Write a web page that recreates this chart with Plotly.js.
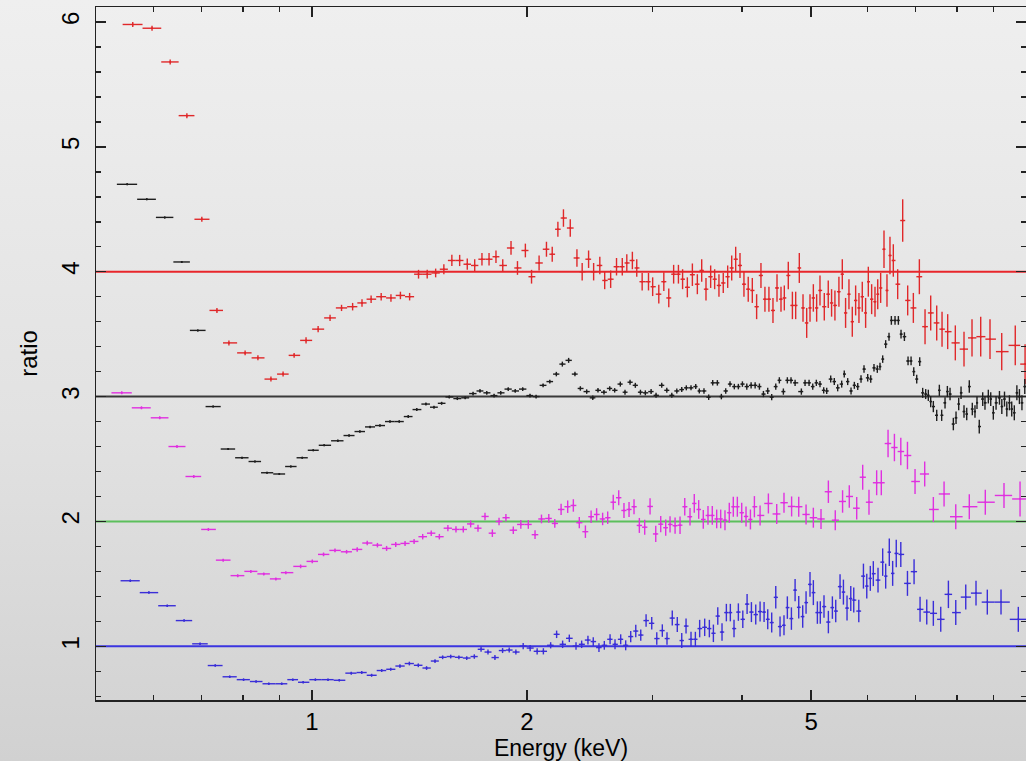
<!DOCTYPE html>
<html>
<head>
<meta charset="utf-8">
<script src="https://cdn.plot.ly/plotly-3.0.1.min.js"></script>
<style>
  html, body { margin: 0; padding: 0; }
  #wrap { width: 1026px; height: 761px; background: linear-gradient(to bottom, #efefef 0%, #e2e2e2 55%, #d1d1d1 100%); }
  #chart { width: 1026px; height: 761px; }
</style>
</head>
<body>
<div id="wrap"><div id="chart"></div></div>
<script>
// [energy keV, ratio, 1-sigma error]
const redPoints = [
  [0.561,5.98,0.02],[0.597,5.95,0.02],[0.633,5.68,0.02],[0.668,5.25,0.02],[0.701,4.42,0.02],
  [0.736,3.69,0.02],[0.765,3.43,0.02],[0.806,3.35,0.02],[0.840,3.31,0.02],[0.876,3.14,0.02],
  [0.911,3.18,0.02],[0.944,3.33,0.02],[0.981,3.45,0.025],[1.02,3.54,0.025],[1.06,3.63,0.025],
  [1.10,3.71,0.025],[1.14,3.72,0.03],[1.175,3.75,0.03],[1.21,3.78,0.03],[1.25,3.80,0.03],
  [1.29,3.79,0.03],[1.33,3.81,0.03],[1.37,3.80,0.03],[1.41,3.98,0.035],[1.45,3.98,0.035],
  [1.49,3.99,0.035],[1.53,4.02,0.04],[1.57,4.09,0.045],[1.61,4.09,0.045],[1.65,4.06,0.045],
  [1.69,4.05,0.05],[1.73,4.10,0.05],[1.77,4.10,0.05],[1.81,4.12,0.05],[1.85,4.05,0.05],
  [1.90,4.19,0.055],[1.94,4.03,0.055],[1.99,4.17,0.055],[2.03,3.96,0.055],[2.08,4.07,0.06],
  [2.13,4.18,0.06],[2.17,4.14,0.06],[2.21,4.34,0.06],[2.25,4.43,0.07],[2.30,4.35,0.07],
  [2.35,4.11,0.07],[2.39,4.00,0.07],[2.44,4.10,0.07],[2.48,4.00,0.07],[2.53,4.05,0.07],
  [2.57,3.93,0.07],[2.62,3.94,0.07],[2.67,4.04,0.07],[2.72,4.04,0.07],[2.76,4.07,0.07],
  [2.81,4.09,0.07],[2.85,4.03,0.07],[2.90,3.92,0.07],[2.96,3.92,0.07],[3.00,3.88,0.075],
  [3.06,3.82,0.075],[3.11,3.92,0.075],[3.16,3.79,0.075],[3.21,3.98,0.075],[3.26,3.98,0.075],
  [3.304,3.94,0.08],[3.355,3.875,0.08],[3.41,3.976,0.09],[3.465,3.90,0.08],[3.514,4.01,0.09],
  [3.563,3.86,0.09],[3.617,3.96,0.09],[3.664,3.94,0.08],[3.715,3.89,0.09],[3.767,3.91,0.08],
  [3.821,3.96,0.09],[3.871,4.03,0.1],[3.921,4.10,0.1],[3.976,4.05,0.1],[4.027,3.90,0.1],
  [4.083,3.86,0.1],[4.137,3.85,0.1],[4.195,3.72,0.1],[4.254,3.97,0.1],[4.309,3.78,0.1],
  [4.365,3.78,0.1],[4.422,3.69,0.1],[4.480,3.87,0.11],[4.538,3.78,0.1],[4.587,3.79,0.1],
  [4.646,3.97,0.11],[4.708,3.73,0.11],[4.758,3.73,0.11],[4.814,4.03,0.12],[4.872,3.71,0.11],
  [4.930,3.59,0.12],[4.983,3.71,0.11],[5.037,3.79,0.11],[5.091,3.71,0.11],[5.146,3.85,0.12],
  [5.218,3.72,0.11],[5.285,3.82,0.11],[5.342,3.75,0.11],[5.400,3.73,0.12],[5.470,3.84,0.12],
  [5.530,3.98,0.12],[5.589,3.67,0.12],[5.650,3.82,0.12],[5.711,3.60,0.12],[5.773,3.77,0.12],
  [5.835,3.71,0.12],[5.898,3.80,0.12],[5.962,3.67,0.12],[6.014,3.92,0.12],[6.079,3.78,0.12],
  [6.145,3.76,0.12],[6.199,3.82,0.12],[6.258,3.87,0.12],[6.326,4.18,0.15],[6.387,3.85,0.13],
  [6.449,4.13,0.15],[6.519,4.09,0.13],[6.611,3.90,0.12],[6.719,4.41,0.17],[6.828,3.77,0.12],
  [6.954,3.71,0.12],[7.090,3.96,0.14],[7.221,3.56,0.14],[7.354,3.67,0.14],[7.498,3.59,0.14],
  [7.628,3.54,0.14],[7.768,3.52,0.14],[7.962,3.43,0.14],[8.188,3.38,0.14],[8.402,3.47,0.15],
  [8.641,3.48,0.16],[8.904,3.46,0.16],[9.247,3.36,0.15],[9.66,3.41,0.16],[9.97,3.26,0.16]
];

const blackPoints = [
  [0.551,4.70,0.008],[0.587,4.58,0.008],[0.622,4.435,0.008],[0.657,4.078,0.008],[0.692,3.53,0.008],
  [0.727,2.92,0.008],[0.763,2.58,0.008],[0.798,2.51,0.008],[0.832,2.48,0.008],[0.865,2.39,0.008],
  [0.900,2.38,0.008],[0.934,2.44,0.008],[0.969,2.51,0.008],[1.004,2.57,0.008],[1.04,2.61,0.008],
  [1.087,2.646,0.01],[1.127,2.688,0.01],[1.167,2.72,0.01],[1.206,2.757,0.01],[1.245,2.768,0.01],
  [1.286,2.80,0.01],[1.325,2.80,0.01],[1.364,2.84,0.012],[1.402,2.896,0.012],[1.444,2.94,0.012],
  [1.482,2.915,0.012],[1.519,2.946,0.012],[1.557,2.997,0.012],[1.598,2.984,0.012],[1.639,2.99,0.012],
  [1.681,3.024,0.015],[1.719,3.045,0.015],[1.757,3.03,0.015],[1.799,3.008,0.015],[1.838,3.03,0.015],
  [1.883,3.06,0.015],[1.926,3.045,0.015],[1.973,3.06,0.015],[2.020,3.008,0.015],[2.060,3.00,0.015],
  [2.107,3.09,0.015],[2.153,3.12,0.015],[2.199,3.18,0.018],[2.242,3.26,0.02],[2.288,3.29,0.02],
  [2.335,3.18,0.018],[2.376,3.065,0.018],[2.425,3.04,0.018],[2.473,2.99,0.018],[2.515,3.05,0.018],
  [2.564,3.035,0.018],[2.612,3.065,0.018],[2.654,3.05,0.018],[2.703,3.10,0.02],[2.744,3.035,0.02],
  [2.789,3.115,0.02],[2.837,3.09,0.02],[2.884,3.035,0.02],[2.930,3.03,0.02],[2.985,3.04,0.02],
  [3.033,3.01,0.02],[3.089,3.09,0.02],[3.140,3.05,0.02],[3.191,3.01,0.02],[3.243,3.045,0.02],
  [3.295,3.056,0.02],[3.344,3.07,0.02],[3.395,3.07,0.02],[3.447,3.08,0.02],[3.487,3.045,0.02],
  [3.540,3.045,0.022],[3.594,2.995,0.022],[3.641,3.11,0.022],[3.696,3.11,0.022],[3.744,3.00,0.022],
  [3.797,3.045,0.022],[3.850,3.10,0.022],[3.904,3.08,0.022],[3.955,3.08,0.022],[4.007,3.10,0.022],
  [4.064,3.08,0.025],[4.121,3.09,0.025],[4.175,3.09,0.025],[4.233,3.08,0.025],[4.288,3.02,0.025],
  [4.348,3.045,0.025],[4.404,2.995,0.025],[4.462,3.08,0.025],[4.514,3.13,0.025],[4.573,3.04,0.025],
  [4.632,3.13,0.025],[4.687,3.13,0.025],[4.749,3.11,0.025],[4.846,3.04,0.025],[4.904,3.11,0.025],
  [4.968,3.11,0.025],[5.027,3.08,0.025],[5.086,3.11,0.025],[5.146,3.10,0.025],[5.208,3.05,0.025],
  [5.259,3.045,0.025],[5.327,3.14,0.028],[5.389,3.12,0.028],[5.448,3.07,0.028],[5.519,3.10,0.028],
  [5.565,3.18,0.028],[5.627,3.12,0.028],[5.688,3.045,0.028],[5.749,3.09,0.028],[5.812,3.08,0.028],
  [5.874,3.14,0.03],[5.931,3.22,0.03],[6.002,3.15,0.03],[6.061,3.14,0.03],[6.125,3.23,0.03],
  [6.191,3.22,0.03],[6.245,3.24,0.03],[6.299,3.30,0.03],[6.360,3.42,0.032],[6.429,3.48,0.032],
  [6.478,3.61,0.035],[6.555,3.61,0.035],[6.626,3.61,0.035],[6.683,3.50,0.035],[6.756,3.48,0.035],
  [6.836,3.285,0.035],[6.903,3.285,0.035],[6.963,3.20,0.035],[7.030,3.14,0.035],[7.098,3.28,0.035],
  [7.166,3.03,0.04],[7.236,3.02,0.04],[7.298,3.01,0.045],[7.354,2.96,0.045],[7.417,2.92,0.045],
  [7.498,2.85,0.045],[7.562,3.05,0.045],[7.619,2.85,0.045],[7.702,2.95,0.045],[7.760,3.04,0.045],
  [7.827,3.02,0.05],[7.911,2.78,0.05],[7.980,2.83,0.05],[8.049,2.94,0.05],[8.110,3.03,0.05],
  [8.188,2.88,0.05],[8.260,2.86,0.05],[8.329,3.08,0.05],[8.410,2.90,0.05],[8.483,2.88,0.05],
  [8.538,2.95,0.05],[8.601,2.76,0.055],[8.697,2.98,0.055],[8.761,2.95,0.055],[8.856,3.00,0.055],
  [8.925,2.98,0.055],[9.00,2.87,0.055],[9.08,2.95,0.055],[9.18,2.99,0.055],[9.25,2.92,0.06],
  [9.33,2.98,0.06],[9.40,2.90,0.06],[9.48,2.95,0.06],[9.55,2.90,0.06],[9.63,2.87,0.06],
  [9.71,3.03,0.06],[9.79,3.00,0.06],[9.87,2.95,0.06],[9.96,3.08,0.06]
];

const magentaPoints = [
  [0.5415,3.03,0.012],[0.577,2.91,0.012],[0.612,2.83,0.012],[0.647,2.60,0.012],[0.683,2.36,0.012],
  [0.716,1.936,0.012],[0.751,1.69,0.012],[0.787,1.566,0.012],[0.821,1.60,0.012],[0.856,1.58,0.012],
  [0.890,1.54,0.012],[0.919,1.59,0.012],[0.964,1.64,0.015],[1.001,1.68,0.015],[1.038,1.736,0.015],
  [1.077,1.768,0.015],[1.118,1.757,0.015],[1.157,1.776,0.018],[1.195,1.827,0.018],[1.235,1.81,0.018],
  [1.272,1.784,0.02],[1.310,1.816,0.02],[1.350,1.824,0.02],[1.390,1.84,0.02],[1.429,1.878,0.022],
  [1.469,1.906,0.022],[1.508,1.878,0.022],[1.550,1.946,0.025],[1.591,1.936,0.025],[1.629,1.936,0.025],
  [1.668,1.98,0.028],[1.708,1.946,0.028],[1.747,2.04,0.03],[1.789,1.906,0.03],[1.828,2.00,0.03],
  [1.869,2.03,0.03],[1.914,1.93,0.03],[1.961,1.976,0.035],[2.009,1.976,0.035],[2.053,1.894,0.035],
  [2.096,2.02,0.035],[2.146,2.024,0.035],[2.188,1.984,0.035],[2.233,2.096,0.045],[2.281,2.118,0.05],
  [2.323,2.128,0.05],[2.368,1.99,0.045],[2.415,1.918,0.05],[2.460,2.038,0.05],[2.504,2.056,0.05],
  [2.553,2.02,0.05],[2.595,2.03,0.05],[2.642,2.154,0.06],[2.689,2.19,0.06],[2.735,2.088,0.06],
  [2.780,2.096,0.06],[2.825,2.118,0.06],[2.874,1.968,0.06],[2.924,1.954,0.06],[2.975,2.12,0.065],
  [3.030,1.90,0.065],[3.079,1.978,0.065],[3.129,1.95,0.065],[3.173,1.976,0.065],[3.225,1.966,0.065],
  [3.277,1.97,0.07],[3.327,2.118,0.07],[3.384,2.038,0.07],[3.431,2.144,0.075],[3.480,2.096,0.075],
  [3.532,2.016,0.075],[3.586,2.048,0.075],[3.636,2.048,0.075],[3.688,2.02,0.075],[3.736,2.02,0.075],
  [3.788,2.01,0.08],[3.841,2.07,0.08],[3.891,2.118,0.08],[3.942,2.118,0.08],[3.998,2.07,0.08],
  [4.054,2.04,0.08],[4.112,2.016,0.08],[4.165,2.118,0.085],[4.242,2.048,0.08],[4.357,2.144,0.08],
  [4.476,2.06,0.08],[4.582,2.15,0.08],[4.696,2.12,0.08],[4.805,2.118,0.08],[4.920,2.056,0.08],
  [5.037,2.03,0.08],[5.163,2.02,0.08],[5.287,2.238,0.09],[5.406,2.01,0.08],[5.535,2.16,0.09],
  [5.656,2.20,0.09],[5.793,2.106,0.09],[5.906,2.354,0.1],[6.027,2.154,0.1],[6.178,2.31,0.1],
  [6.271,2.31,0.1],[6.409,2.624,0.11],[6.542,2.592,0.11],[6.678,2.56,0.11],[6.823,2.528,0.11],
  [6.992,2.32,0.1],[7.213,2.38,0.1],[7.417,2.096,0.1],[7.678,2.22,0.1],[7.973,2.038,0.1],
  [8.329,2.118,0.1],[8.770,2.154,0.1],[9.315,2.208,0.1],[9.81,2.18,0.14]
];

const bluePoints = [
  [0.5566,1.525,0.01],[0.591,1.43,0.01],[0.627,1.325,0.01],[0.662,1.206,0.01],[0.697,1.02,0.01],
  [0.732,0.846,0.01],[0.767,0.756,0.01],[0.802,0.733,0.01],[0.835,0.718,0.01],[0.870,0.70,0.01],
  [0.907,0.70,0.01],[0.940,0.733,0.01],[0.972,0.712,0.01],[1.011,0.733,0.01],[1.053,0.733,0.01],
  [1.092,0.728,0.01],[1.135,0.785,0.012],[1.174,0.79,0.012],[1.212,0.768,0.012],[1.252,0.806,0.012],
  [1.289,0.816,0.012],[1.328,0.842,0.015],[1.369,0.862,0.015],[1.409,0.848,0.015],[1.447,0.826,0.015],
  [1.487,0.882,0.015],[1.524,0.912,0.015],[1.564,0.918,0.015],[1.606,0.912,0.015],[1.647,0.906,0.015],
  [1.688,0.918,0.018],[1.725,0.976,0.02],[1.764,0.954,0.02],[1.804,0.91,0.02],[1.849,0.966,0.02],
  [1.889,0.97,0.02],[1.930,0.954,0.02],[1.976,1.002,0.025],[2.021,0.986,0.025],[2.067,0.96,0.025],
  [2.109,0.96,0.025],[2.159,1.008,0.025],[2.201,1.096,0.03],[2.244,1.016,0.03],[2.293,1.064,0.03],
  [2.343,1.002,0.03],[2.386,1.016,0.03],[2.435,1.05,0.035],[2.477,1.038,0.035],[2.523,0.99,0.035],
  [2.567,1.008,0.035],[2.615,1.056,0.04],[2.657,1.016,0.04],[2.706,1.056,0.04],[2.750,1.008,0.04],
  [2.795,1.078,0.045],[2.841,1.122,0.05],[2.887,1.09,0.045],[2.937,1.206,0.05],[2.991,1.184,0.05],
  [3.040,1.062,0.05],[3.095,1.126,0.05],[3.142,1.062,0.05],[3.196,1.226,0.06],[3.248,1.174,0.06],
  [3.295,1.046,0.06],[3.341,1.162,0.06],[3.395,1.056,0.06],[3.443,1.056,0.06],[3.491,1.142,0.07],
  [3.548,1.152,0.07],[3.602,1.142,0.07],[3.649,1.104,0.07],[3.701,1.242,0.07],[3.752,1.114,0.07],
  [3.805,1.27,0.07],[3.854,1.27,0.07],[3.900,1.142,0.07],[3.955,1.274,0.07],[4.012,1.216,0.07],
  [4.068,1.338,0.08],[4.125,1.274,0.08],[4.183,1.254,0.08],[4.242,1.278,0.08],[4.297,1.274,0.08],
  [4.348,1.216,0.08],[4.404,1.19,0.08],[4.462,1.392,0.09],[4.524,1.158,0.08],[4.582,1.168,0.08],
  [4.632,1.31,0.09],[4.693,1.222,0.09],[4.749,1.45,0.09],[4.805,1.312,0.09],[4.867,1.238,0.09],
  [4.920,1.35,0.09],[4.983,1.496,0.1],[5.037,1.43,0.1],[5.103,1.27,0.09],[5.151,1.27,0.09],
  [5.213,1.318,0.09],[5.287,1.194,0.09],[5.356,1.31,0.09],[5.414,1.282,0.09],[5.490,1.478,0.1],
  [5.550,1.434,0.1],[5.615,1.306,0.1],[5.683,1.382,0.1],[5.738,1.37,0.1],[5.832,1.282,0.09],
  [5.920,1.562,0.1],[5.984,1.482,0.1],[6.053,1.544,0.1],[6.112,1.582,0.1],[6.205,1.53,0.1],
  [6.299,1.674,0.11],[6.360,1.562,0.1],[6.435,1.754,0.11],[6.505,1.584,0.1],[6.581,1.744,0.11],
  [6.678,1.736,0.1],[6.823,1.504,0.1],[6.970,1.598,0.1],[7.106,1.296,0.1],[7.261,1.274,0.1],
  [7.417,1.264,0.1],[7.596,1.216,0.1],[7.786,1.416,0.11],[7.973,1.27,0.1],[8.234,1.394,0.1],
  [8.511,1.426,0.1],[8.827,1.354,0.1],[9.226,1.354,0.1],[9.755,1.216,0.1]
];

const xTickVals = [1, 2, 5];
const xTickText = ['1', '2', '5'];
const xMinorVals = [0.6, 0.7, 0.8, 0.9, 3, 4, 6, 7, 8, 9];
const yTickVals = [1, 2, 3, 4, 5, 6];
const refLevels = [4, 3, 2, 1];
const refColors = ['#e8262b', '#3a3a3a', '#5cbf5c', '#3b35e0'];

const seriesList = [
  {pts: redPoints, color: '#e0282a'},
  {pts: blackPoints, color: '#1e1e1e'},
  {pts: magentaPoints, color: '#e030e0'},
  {pts: bluePoints, color: '#3a2ed8'}
];

function binHalfWidths(E) {
  const n = E.length, plus = [], minus = [];
  for (let i = 0; i < n; i++) {
    const left = i > 0 ? (E[i - 1] + E[i]) / 2 : E[0] - (E[1] - E[0]) / 2;
    const right = i < n - 1 ? (E[i] + E[i + 1]) / 2 : E[n - 1] + (E[n - 1] - E[n - 2]) / 2;
    minus.push(E[i] - left);
    plus.push(right - E[i]);
  }
  return {plus, minus};
}

const traces = seriesList.map(s => {
  const E = s.pts.map(p => p[0]);
  const R = s.pts.map(p => p[1]);
  const err = s.pts.map(p => p[2]);
  const hw = binHalfWidths(E);
  return {
    type: 'scatter', mode: 'markers', x: E, y: R,
    marker: {size: 2, color: s.color},
    error_y: {type: 'data', array: err, visible: true, width: 0, thickness: 1.4, color: s.color},
    error_x: {type: 'data', array: hw.plus, arrayminus: hw.minus, symmetric: false, visible: true, width: 0, thickness: 1.4, color: s.color},
    showlegend: false, hoverinfo: 'x+y'
  };
});

const shapes = refLevels.map((lv, i) => ({
  type: 'line', xref: 'paper', x0: 0, x1: 1, yref: 'y', y0: lv, y1: lv,
  line: {color: refColors[i], width: 2}, layer: 'below'
}));

const fontFam = 'Liberation Sans, Arial, Helvetica, sans-serif';

const layout = {
  width: 1026, height: 761,
  margin: {l: 96, r: 0, t: 7, b: 61, pad: 0},
  paper_bgcolor: 'rgba(0,0,0,0)', plot_bgcolor: 'rgba(0,0,0,0)',
  font: {family: fontFam, color: '#000', size: 24},
  shapes: shapes,
  xaxis: {
    type: 'log', range: [-0.3025, 1.0],
    tickmode: 'array', tickvals: xTickVals, ticktext: xTickText,
    ticks: 'inside', ticklen: 10, tickwidth: 1.5, tickcolor: '#222',
    minor: {tickvals: xMinorVals, ticks: 'inside', ticklen: 5, tickwidth: 1.5, tickcolor: '#222'},
    showline: true, linecolor: '#222', linewidth: 1.5, mirror: 'ticks',
    showgrid: false, zeroline: false,
    tickfont: {size: 24, family: fontFam, color: '#000'},
    ticklabelstandoff: 0,
    title: {text: 'Energy (keV)', font: {size: 23, family: fontFam, color: '#000'}, standoff: 2},
    automargin: false
  },
  yaxis: {
    range: [0.57, 6.12],
    tickmode: 'array', tickvals: yTickVals,
    ticks: 'inside', ticklen: 10, tickwidth: 1.5, tickcolor: '#222',
    minor: {dtick: 0.2, ticks: 'inside', ticklen: 5, tickwidth: 1.5, tickcolor: '#222'},
    showline: true, linecolor: '#222', linewidth: 1.5, mirror: 'ticks',
    showgrid: false, zeroline: false,
    tickangle: -90,
    tickfont: {size: 24, family: fontFam, color: '#000'},
    ticklabelstandoff: 6,
    title: {text: 'ratio', font: {size: 24, family: fontFam, color: '#000'}, standoff: 12},
    automargin: false
  }
};

Plotly.newPlot('chart', traces, layout, {displayModeBar: false, staticPlot: true});
</script>
</body>
</html>
